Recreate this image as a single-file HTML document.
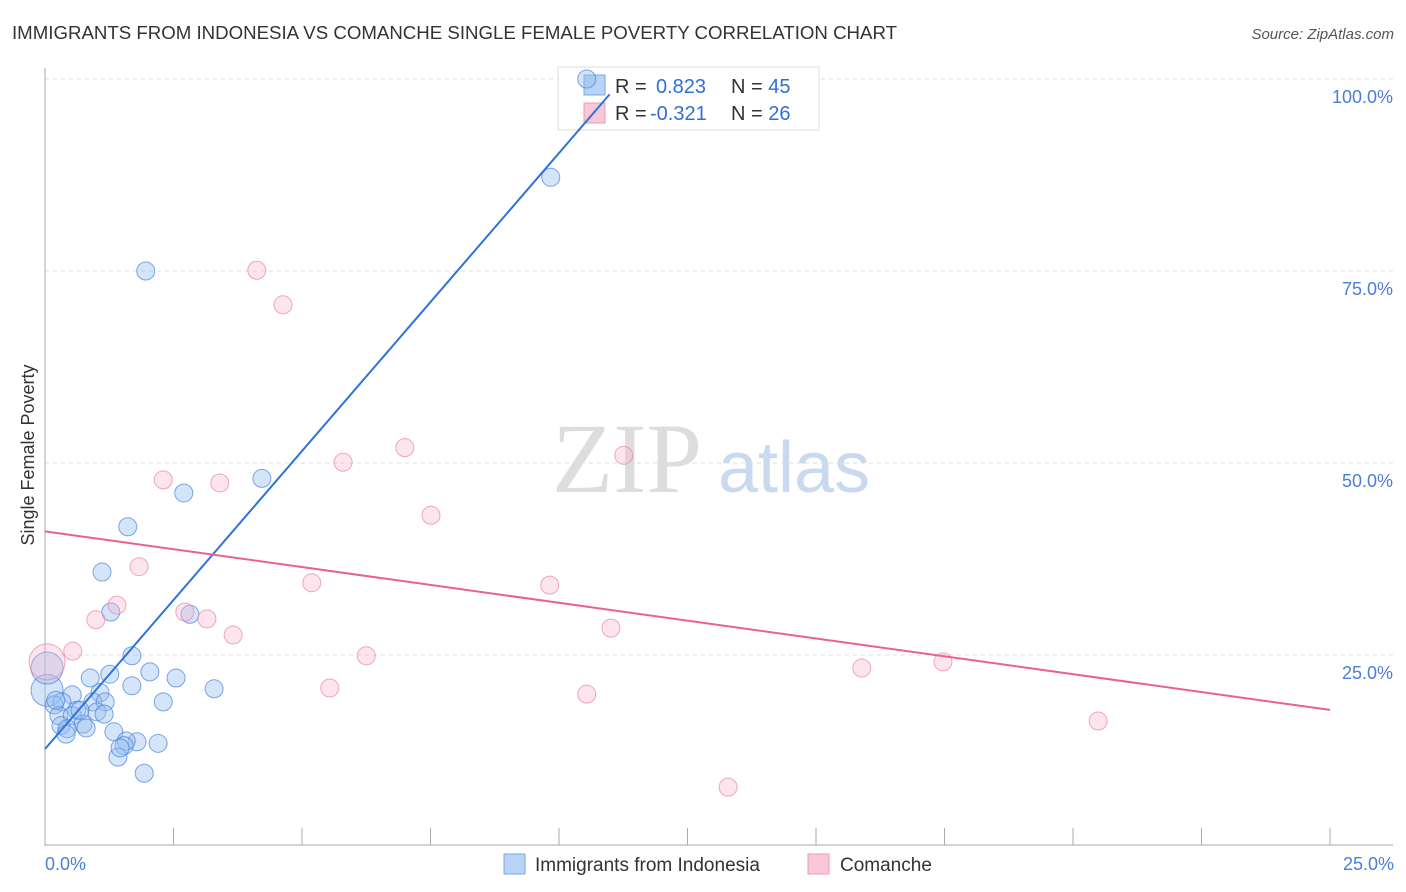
<!DOCTYPE html>
<html><head><meta charset="utf-8"><style>
body{margin:0;background:#fff;font-family:"Liberation Sans",sans-serif;}
svg{display:block}
</style></head><body>
<svg width="1406" height="892" xmlns="http://www.w3.org/2000/svg">
<text x="12" y="39" font-size="18" fill="#333" textLength="885" lengthAdjust="spacingAndGlyphs">IMMIGRANTS FROM INDONESIA VS COMANCHE SINGLE FEMALE POVERTY CORRELATION CHART</text>
<text x="1394" y="39" font-size="15" fill="#555" font-style="italic" text-anchor="end">Source: ZipAtlas.com</text>
<g>
<text x="552" y="492" font-size="100" fill="#ddd" font-family="Liberation Serif,serif">ZIP</text>
<text x="718" y="492" font-size="72" fill="#c8d9f0">atlas</text>
</g>
<g id="grid"></g>
<g id="axes"></g>
<g>
<rect x="558" y="67" width="261" height="63" fill="#fff" stroke="#ddd"/>
<rect x="584" y="75" width="21" height="20" fill="#b8d3f6" stroke="#7aa7e6"/>
<rect x="584" y="103" width="21" height="20" fill="#f8c8d6" stroke="#ec9ab4"/>
<text x="615" y="93" font-size="20" fill="#333">R = <tspan x="656" fill="#2f6fd6">0.823</tspan><tspan x="731" fill="#333">N = </tspan><tspan fill="#2f6fd6">45</tspan></text>
<text x="615" y="120" font-size="20" fill="#333">R = <tspan x="650" fill="#2f6fd6">-0.321</tspan><tspan x="731" fill="#333">N = </tspan><tspan fill="#2f6fd6">26</tspan></text>
</g>
<g id="marks"></g>
<text transform="translate(34,455) rotate(-90)" font-size="18" fill="#333" text-anchor="middle">Single Female Poverty</text>
<text x="45" y="870" font-size="18" fill="#4a7fd6">0.0%</text>
<text x="1394" y="870" font-size="18" fill="#4a7fd6" text-anchor="end">25.0%</text>
<g>
<rect x="504" y="854" width="21" height="20" fill="#b8d3f6" stroke="#7aa7e6"/>
<text x="535" y="871" font-size="19" fill="#333">Immigrants from Indonesia</text>
<rect x="808" y="854" width="21" height="20" fill="#f8c8d6" stroke="#ec9ab4"/>
<text x="840" y="871" font-size="19" fill="#333">Comanche</text>
</g>
</svg>
<script>
const blueX=[10.54,9.84,1.96,4.22,2.70,1.61,1.11,1.28,2.82,1.69,1.26,2.04,2.55,0.88,1.69,3.29,1.07,0.53,0.04,0.04,0.33,0.18,0.93,1.17,2.30,0.62,1.01,1.15,0.27,0.53,0.74,0.31,0.80,0.43,1.34,0.41,1.79,2.20,1.58,1.54,1.42,1.93,0.68,1.46,0.21];
const blueY=[100,87.2,75.0,48.0,46.1,41.7,35.8,30.6,30.3,24.9,22.5,22.8,22.0,22.0,21.0,20.6,20.1,19.8,20.4,23.3,18.9,18.5,18.9,18.9,18.9,17.8,17.6,17.3,17.1,17.1,16.0,15.8,15.5,15.4,15.0,14.7,13.7,13.5,13.8,13.2,11.7,9.6,17.8,12.9,19.1];
const blueSize=[9,9,9,9,9,9,9,9,9,9,9,9,9,9,9,9,9,9,16,16,9,9,9,9,9,9,9,9,9,9,9,9,9,9,9,9,9,9,9,9,9,9,9,9,9];
const pinkX=[4.12,4.63,7.00,11.26,5.80,2.30,3.40,7.51,1.83,5.19,9.82,1.40,2.72,0.99,3.15,3.66,11.01,0.54,6.25,17.47,15.89,5.54,10.54,20.49,13.29,0.04];
const pinkY=[75.1,70.6,52.0,51.0,50.1,47.8,47.4,43.2,36.5,34.4,34.1,31.5,30.6,29.6,29.7,27.6,28.5,25.5,24.9,24.1,23.3,20.7,19.9,16.4,7.8,24.1];
const pinkSize=[9,9,9,9,9,9,9,9,9,9,9,9,9,9,9,9,9,9,9,9,9,9,9,9,9,18];
const blueLine=[12.76,7.76];
const pinkLine=[41.1,-0.93];
const yTicks=[25,50,75,100];
const xTicks=[0,2.5,5,7.5,10,12.5,15,17.5,20,22.5,25];
const NS="http://www.w3.org/2000/svg";
const sx=v=>45+v/25*1285;
const sy=v=>847-v/100*768;
function mk(tag,attrs,parent){const e=document.createElementNS(NS,tag);for(const k in attrs)e.setAttribute(k,attrs[k]);document.getElementById(parent).appendChild(e);return e;}
yTicks.forEach(t=>{
 const l=mk('line',{x1:45,x2:1393,y1:sy(t),y2:sy(t),stroke:'#ddd','stroke-dasharray':'4,4'},'grid');
 
 
 const tx=mk('text',{x:1393,y:sy(t)+24,'font-size':18,fill:'#4a7fd6','text-anchor':'end'},'grid');
 tx.textContent=t.toFixed(1)+'%';
 
 
});
let a=mk('line',{x1:45,x2:45,y1:68,y2:846,stroke:'#aaa'},'axes');


a=mk('line',{x1:45,x2:1393,y1:845,y2:845,stroke:'#aaa'},'axes');


xTicks.forEach(t=>{
 const l=mk('line',{x1:sx(t),x2:sx(t),y1:828,y2:845,stroke:'#aaa'},'axes');
 
 
});
blueX.forEach((x,i)=>{
 const c=mk('circle',{cx:sx(x),cy:sy(blueY[i]),r:blueSize[i],fill:'rgba(150,190,240,0.4)',stroke:'rgba(70,130,220,0.7)','stroke-width':1},'marks');
 
 
});
pinkX.forEach((x,i)=>{
 const c=mk('circle',{cx:sx(x),cy:sy(pinkY[i]),r:pinkSize[i],fill:'rgba(245,180,200,0.35)',stroke:'rgba(235,130,165,0.7)','stroke-width':1},'marks');
 
 
});
const bxEnd=(98-blueLine[0])/blueLine[1];
let t=mk('line',{x1:sx(0),y1:sy(blueLine[0]),x2:sx(bxEnd),y2:sy(98),stroke:'#2f72d8','stroke-width':2},'marks');


t=mk('line',{x1:sx(0),y1:sy(pinkLine[0]),x2:sx(25),y2:sy(pinkLine[0]+pinkLine[1]*25),stroke:'#e8628f','stroke-width':2},'marks');


</script>
</body></html>
